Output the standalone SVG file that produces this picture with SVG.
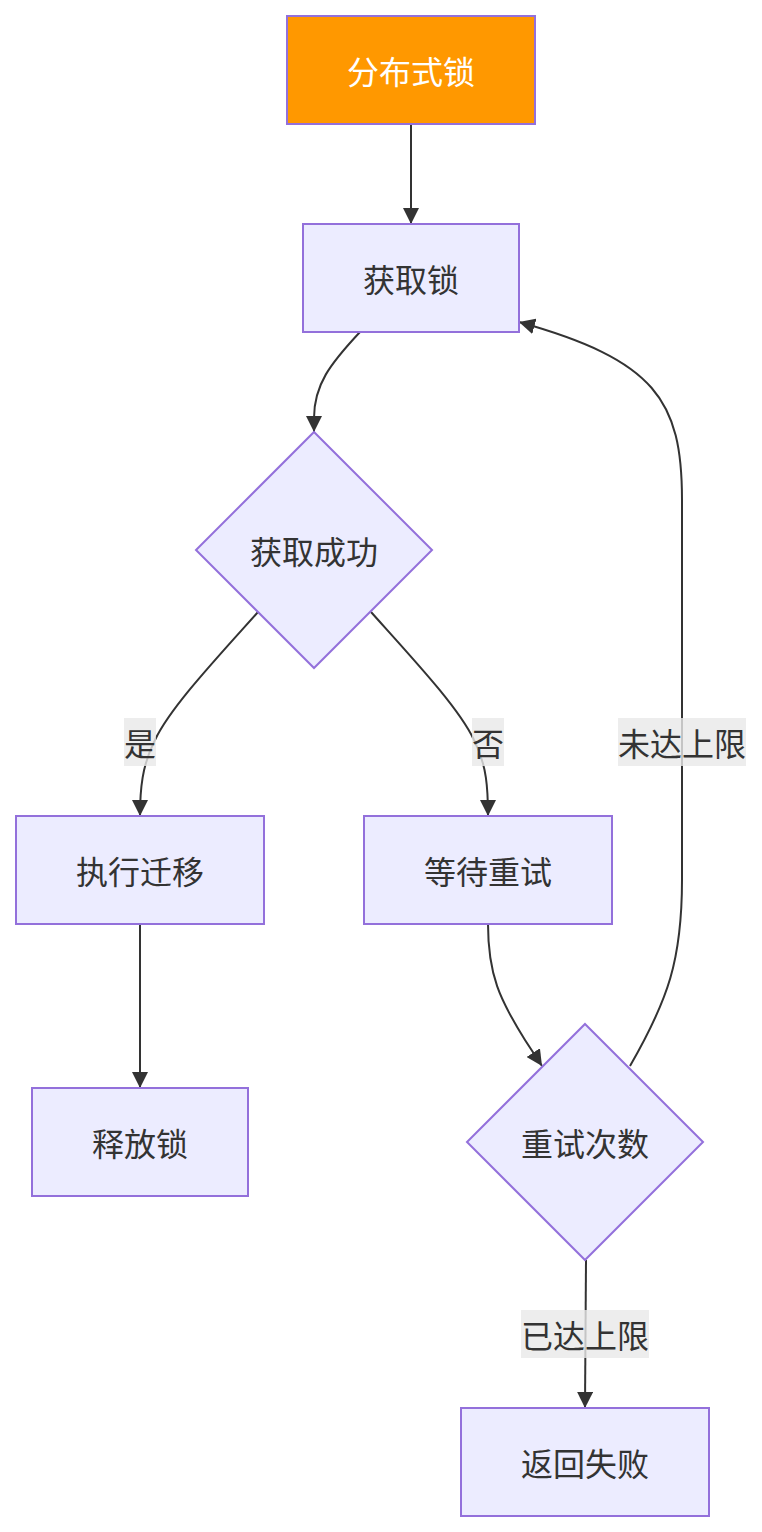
<svg xmlns="http://www.w3.org/2000/svg" width="762" height="1532" viewBox="0 0 762 1532">
<style>
.node rect,.node polygon{fill:#ECECFF;stroke:#9370DB;stroke-width:2}
.node text,.lbl text{font-family:"Noto Sans CJK SC","Noto Sans",sans-serif;font-size:32px;fill:#333;text-anchor:middle;dominant-baseline:central}
.edge{fill:none;stroke:#333;stroke-width:2}
.lbl rect{fill:#e8e8e8;fill-opacity:0.8}
</style>
<defs>
<marker id="arr" viewBox="0 0 10 10" refX="10" refY="5" markerWidth="16" markerHeight="16" markerUnits="userSpaceOnUse" orient="auto">
<path d="M0,0 L10,5 L0,10 z" fill="#333"/>
</marker>
</defs>
<g id="connectors">
<path class="edge" d="M411,124 L411,224" marker-end="url(#arr)"/>
<path class="edge" d="M360,332 C330,364 314,385 314,418 L314,432" marker-end="url(#arr)"/>
<path class="edge" d="M258,612 C215,660 170,708 155,740 C142,765 140,790 140,816" marker-end="url(#arr)"/>
<path class="edge" d="M371,612 C414,660 459,708 474,740 C487,765 488,790 488,816" marker-end="url(#arr)"/>
<path class="edge" d="M140,924 L140,1088" marker-end="url(#arr)"/>
<path class="edge" d="M488,924 C488,975 500,1000 525,1040 L542,1066" marker-end="url(#arr)"/>
<path class="edge" d="M630,1066 C668,1000 682,960 682,880 L682,500 C682,400 655,360 519,322" marker-end="url(#arr)"/>
<path class="edge" d="M586,1260 L585,1408" marker-end="url(#arr)"/>
</g>
<g id="labels">
<g class="lbl"><rect x="124" y="718" width="32" height="48"/><text x="140" y="742">是</text></g>
<g class="lbl"><rect x="472" y="718" width="32" height="48"/><text x="488" y="742">否</text></g>
<g class="lbl"><rect x="618" y="718" width="128" height="48"/><text x="682" y="742">未达上限</text></g>
<g class="lbl"><rect x="521" y="1310" width="128" height="48"/><text x="585" y="1334">已达上限</text></g>
</g>
<g id="n-lock" class="node"><rect x="287" y="16" width="248" height="108" style="fill:#ff9800"/><text x="411" y="70" style="fill:#fff">分布式锁</text></g>
<g id="n-acquire" class="node"><rect x="303" y="224" width="216" height="108"/><text x="411" y="278">获取锁</text></g>
<g id="n-success" class="node"><polygon points="314,432 432,550 314,668 196,550"/><text x="314" y="550">获取成功</text></g>
<g id="n-migrate" class="node"><rect x="16" y="816" width="248" height="108"/><text x="140" y="870">执行迁移</text></g>
<g id="n-wait" class="node"><rect x="364" y="816" width="248" height="108"/><text x="488" y="870">等待重试</text></g>
<g id="n-release" class="node"><rect x="32" y="1088" width="216" height="108"/><text x="140" y="1142">释放锁</text></g>
<g id="n-retry" class="node"><polygon points="585,1024 703,1142 585,1260 467,1142"/><text x="585" y="1142">重试次数</text></g>
<g id="n-fail" class="node"><rect x="461" y="1408" width="248" height="108"/><text x="585" y="1462">返回失败</text></g>
</svg>
